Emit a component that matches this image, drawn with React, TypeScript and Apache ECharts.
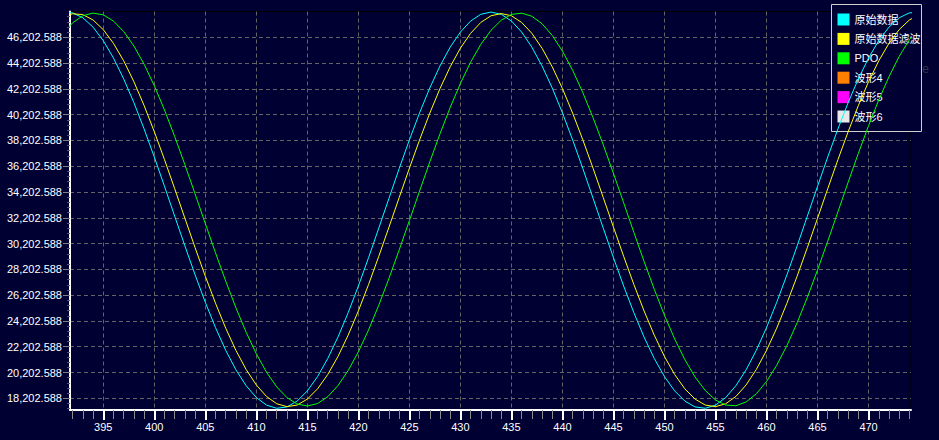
import React, { useEffect, useRef } from "react";
import * as echarts from "echarts";

const xValues = [
  391, 392, 393, 394, 395, 396, 397, 398, 399, 400,
  401, 402, 403, 404, 405, 406, 407, 408, 409, 410,
  411, 412, 413, 414, 415, 416, 417, 418, 419, 420,
  421, 422, 423, 424, 425, 426, 427, 428, 429, 430,
  431, 432, 433, 434, 435, 436, 437, 438, 439, 440,
  441, 442, 443, 444, 445, 446, 447, 448, 449, 450,
  451, 452, 453, 454, 455, 456, 457, 458, 459, 460,
  461, 462, 463, 464, 465, 466, 467, 468, 469, 470,
  471, 472, 473, 474, 475,
];

const rawData = [
  48132, 48097, 47713, 46990, 45944, 44597, 42980, 41134, 39098, 36918,
  34642, 32326, 30020, 27776, 25648, 23682, 21922, 20411, 19181, 18261,
  17672, 17428, 17532, 17985, 18776, 19882, 21287, 22949, 24841, 26908,
  29110, 31401, 33718, 36018, 38240, 40340, 42270, 43981, 45440, 46609,
  47464, 47985, 48160, 47985, 47464, 46609, 45440, 43981, 42270, 40340,
  38240, 36018, 33718, 31401, 29110, 26908, 24841, 22949, 21287, 19882,
  18776, 17985, 17532, 17428, 17672, 18261, 19181, 20411, 21922, 23682,
  25648, 27776, 30020, 32326, 34642, 36918, 39098, 41134, 42980, 44597,
  45944, 46990, 47713, 48097, 48132,
];

const filteredData = [
  47752, 48028, 47958, 47546, 46799, 45733, 44376, 42760, 40911, 38883,
  36715, 34459, 32166, 29885, 27673, 25576, 23642, 21916, 20437, 19237,
  18344, 17780, 17556, 17676, 18140, 18935, 20045, 21443, 23099, 24979,
  27029, 29213, 31478, 33773, 36044, 38244, 40319, 42225, 43916, 45357,
  46512, 47355, 47871, 48043, 47871, 47355, 46512, 45357, 43916, 42225,
  40319, 38244, 36044, 33773, 31478, 29213, 27029, 24979, 23099, 21443,
  20045, 18935, 18140, 17676, 17556, 17780, 18344, 19237, 20437, 21916,
  23642, 25576, 27673, 29885, 32166, 34459, 36715, 38883, 40911, 42760,
  44376, 45733, 46799, 47546, 47958,
];

const pdoData = [
  46451, 47327, 47874, 48081, 47943, 47463, 46651, 45526, 44115, 42446,
  40563, 38504, 36315, 34048, 31754, 29485, 27291, 25224, 23329, 21651,
  20225, 19086, 18259, 17760, 17605, 17795, 18326, 19187, 20356, 21808,
  23509, 25424, 27507, 29709, 31983, 34278, 36538, 38716, 40761, 42624,
  44269, 45652, 46747, 47525, 47972, 48075, 47835, 47254, 46346, 45131,
  43641, 41904, 39961, 37858, 35642, 33361, 31069, 28818, 26657, 24635,
  22801, 21194, 19851, 18804, 18074, 17678, 17626, 17919, 18550, 19505,
  20764, 22296, 24063, 26032, 28156, 30386, 32672, 34962, 37204, 39345,
  41343, 43141, 44714, 46012, 47015,
];

const seriesNames = ["原始数据", "原始数据滤波", "PDO", "波形4", "波形5", "波形6"];
const seriesColors = ["#00FFFF", "#FFFF00", "#00FF00", "#FF8000", "#FF00FF", "#E8E8E8"];

const xMajorTicks = [395, 400, 405, 410, 415, 420, 425, 430, 435, 440, 445, 450, 455, 460, 465, 470];
const xMinorTicks = [
  392, 393, 394, 396, 397, 398, 399, 401, 402, 403, 404, 406, 407, 408, 409,
  411, 412, 413, 414, 416, 417, 418, 419, 421, 422, 423, 424, 426, 427, 428, 429,
  431, 432, 433, 434, 436, 437, 438, 439, 441, 442, 443, 444, 446, 447, 448, 449,
  451, 452, 453, 454, 456, 457, 458, 459, 461, 462, 463, 464, 466, 467, 468, 469,
  471, 472, 473, 474,
];
const yMajorTicks = [
  18202.588, 20202.588, 22202.588, 24202.588, 26202.588, 28202.588, 30202.588, 32202.588,
  34202.588, 36202.588, 38202.588, 40202.588, 42202.588, 44202.588, 46202.588,
];

const X_MIN = 391.74;
const X_MAX = 474.16;
const Y_MIN = 17295;
const Y_MAX = 48202.588;

export default function App() {
  const ref = useRef<HTMLDivElement>(null);

  useEffect(() => {
    if (!ref.current) return;
    const chart = echarts.init(ref.current, null, { renderer: "svg" });

    const yMinorTicks: number[] = [];
    [...yMajorTicks, 48202.588].forEach((v) => {
      [-1600, -1200, -800, -400].forEach((d) => {
        const t = Math.round((v + d) * 1000) / 1000;
        if (t > Y_MIN && t < Y_MAX) yMinorTicks.push(t);
      });
    });

    const lineSeries = [rawData, filteredData, pdoData].map((arr, i) => ({
      name: seriesNames[i],
      type: "line",
      xAxisIndex: 0,
      yAxisIndex: 0,
      data: xValues.map((x, j) => [x, arr[j]]),
      showSymbol: false,
      clip: false,
      color: seriesColors[i],
      legendIcon: "rect",
      lineStyle: { width: 1, color: seriesColors[i] },
      z: 6,
    }));
    const emptySeries = [3, 4, 5].map((i) => ({
      name: seriesNames[i],
      type: "line",
      data: [] as number[][],
      color: seriesColors[i],
      legendIcon: "rect",
      showSymbol: false,
    }));

    const labelFont = { color: "#FFFFFF", fontFamily: "Liberation Sans", fontSize: 11 };

    chart.setOption({
      animation: false,
      backgroundColor: "#000033",
      grid: {
        left: 70,
        right: 28,
        top: 11.5,
        bottom: 30,
        show: true,
        borderColor: "#000000",
        borderWidth: 1,
        backgroundColor: "transparent",
      },
      legend: {
        orient: "vertical",
        left: 831.5,
        top: 4.5,
        padding: [9, 1, 9, 6],
        itemWidth: 12,
        itemHeight: 12,
        itemGap: 7.4,
        icon: "rect",
        data: seriesNames,
        selectedMode: false,
        backgroundColor: "#000033",
        borderColor: "#D0D0D0",
        borderWidth: 1,
        itemStyle: { borderWidth: 0 },
        lineStyle: { width: 0, opacity: 0 },
        z: 4,
        textStyle: {
          color: "#FFFFFF",
          fontSize: 11,
          lineHeight: 12,
          fontFamily: "Liberation Sans, Noto Sans CJK SC",
        },
      },
      graphic: {
        z: 5,
        elements: [
          {
            type: "text",
            x: 833,
            y: 68.5,
            style: {
              text: "NameNameName",
              fill: "#34344A",
              font: "12px Liberation Sans",
              verticalAlign: "middle",
            },
          },
        ],
      },
      xAxis: [
        {
          type: "value",
          min: X_MIN,
          max: X_MAX,
          position: "bottom",
          axisLine: { show: true, lineStyle: { color: "#FFFFFF", width: 2 } },
          axisTick: {
            show: true,
            customValues: xMajorTicks,
            length: 10,
            lineStyle: { color: "#FFFFFF", width: 2 },
          },
          axisLabel: { ...labelFont, customValues: xMajorTicks, margin: 11 },
          splitLine: {
            show: true,
            lineStyle: { color: "#646464", type: [4, 3], width: 1 },
          },
        },
        {
          type: "value",
          min: X_MIN,
          max: X_MAX,
          position: "bottom",
          axisLine: { show: false },
          axisTick: {
            show: true,
            customValues: xMinorTicks,
            length: 9,
            lineStyle: { color: "#8C8C8C", width: 1 },
          },
          axisLabel: { show: false },
          splitLine: { show: false },
        },
      ],
      yAxis: [
        {
          type: "value",
          min: Y_MIN,
          max: Y_MAX,
          position: "left",
          axisLine: { show: true, lineStyle: { color: "#FFFFFF", width: 2 } },
          axisTick: {
            show: true,
            customValues: yMajorTicks,
            length: 7,
            lineStyle: { color: "#808080", width: 1 },
          },
          axisLabel: {
            ...labelFont,
            customValues: yMajorTicks,
            margin: 8,
            formatter: (v: number) =>
              v.toLocaleString("en-US", { minimumFractionDigits: 3, maximumFractionDigits: 3 }),
          },
          splitLine: {
            show: true,
            lineStyle: { color: "#646464", type: [4, 3], width: 1 },
          },
        },
        {
          type: "value",
          min: Y_MIN,
          max: Y_MAX,
          position: "left",
          axisLine: { show: false },
          axisTick: {
            show: true,
            customValues: yMinorTicks,
            length: 3,
            lineStyle: { color: "#5A5A6A", width: 1 },
          },
          axisLabel: { show: false },
          splitLine: { show: false },
        },
      ],
      series: [...lineSeries, ...emptySeries],
    });

    return () => chart.dispose();
  }, []);

  return (
    <div
      ref={ref}
      style={{ position: "fixed", left: 0, top: 0, width: 939, height: 440 }}
    />
  );
}
